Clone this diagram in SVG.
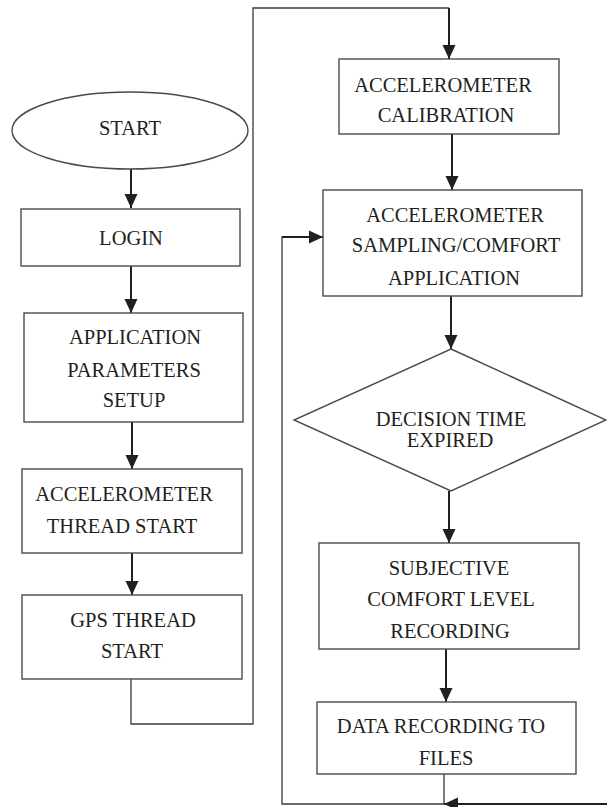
<svg xmlns="http://www.w3.org/2000/svg" width="607" height="807" viewBox="0 0 607 807">
<defs>
<marker id="ah" markerUnits="userSpaceOnUse" markerWidth="14" markerHeight="14" viewBox="0 0 14 14" refX="14" refY="7" orient="auto">
<path d="M0,0.5 L14,7 L0,13.5 Z" fill="#231f20"/>
</marker>
<style>
.box{fill:#fff;stroke:#4a4a4a;stroke-width:1.4}
.t{font-family:"Liberation Serif","Times New Roman",serif;font-size:20.5px;fill:#231f20;text-anchor:middle}
.a{fill:none;stroke:#231f20;stroke-width:2}
.l{fill:none;stroke:#3a3a3a;stroke-width:1.3}
</style>
</defs>
<rect width="607" height="807" fill="#fff"/>
<g id="connectors">
<path class="a" d="M131,169 V208" marker-end="url(#ah)"/>
<path class="a" d="M131,266 V313" marker-end="url(#ah)"/>
<path class="a" d="M132,422 V469" marker-end="url(#ah)"/>
<path class="a" d="M132,553 V595" marker-end="url(#ah)"/>
<path class="l" d="M131,679 V724 H253 V8 H449"/>
<path class="a" d="M449,8 V59" marker-end="url(#ah)"/>
<path class="a" d="M452,134 V190" marker-end="url(#ah)"/>
<path class="a" d="M451,296 V349" marker-end="url(#ah)"/>
<path class="a" d="M449,491 V543" marker-end="url(#ah)"/>
<path class="a" d="M446,649 V702" marker-end="url(#ah)"/>
<path class="l" d="M444,774 V804"/>
<path class="a" d="M607,804 H444" marker-end="url(#ah)"/>
<path class="l" d="M444,804 H282 V237 H300"/>
<path class="a" d="M282,237 H323" marker-end="url(#ah)"/>
</g>
<g id="start">
<ellipse class="box" cx="130" cy="130.5" rx="118" ry="38.5"/>
<text class="t" x="130" y="135">START</text>
</g>
<g id="login">
<rect class="box" x="21" y="209" width="219" height="57"/>
<text class="t" x="131" y="245">LOGIN</text>
</g>
<g id="app-params">
<rect class="box" x="24" y="313" width="219" height="109"/>
<text class="t" x="135" y="344">APPLICATION</text>
<text class="t" x="134" y="377">PARAMETERS</text>
<text class="t" x="134" y="407">SETUP</text>
</g>
<g id="acc-thread">
<rect class="box" x="22" y="469" width="220" height="84"/>
<text class="t" x="124" y="501">ACCELEROMETER</text>
<text class="t" x="122" y="533">THREAD  START</text>
</g>
<g id="gps-thread">
<rect class="box" x="22" y="595" width="220" height="84"/>
<text class="t" x="133" y="627">GPS THREAD</text>
<text class="t" x="132" y="658">START</text>
</g>
<g id="acc-calibration">
<rect class="box" x="339" y="59" width="220" height="75"/>
<text class="t" x="443" y="92">ACCELEROMETER</text>
<text class="t" x="446" y="122">CALIBRATION</text>
</g>
<g id="acc-sampling">
<rect class="box" x="323" y="190" width="259" height="106"/>
<text class="t" x="455" y="222">ACCELEROMETER</text>
<text class="t" x="456" y="252">SAMPLING/COMFORT</text>
<text class="t" x="454" y="285">APPLICATION</text>
</g>
<g id="decision">
<polygon class="box" points="451,349 606,420 451,491 294,420"/>
<text class="t" x="451" y="426">DECISION TIME</text>
<text class="t" x="450" y="447">EXPIRED</text>
</g>
<g id="subjective">
<rect class="box" x="319" y="543" width="260" height="106"/>
<text class="t" x="449" y="575">SUBJECTIVE</text>
<text class="t" x="451" y="606">COMFORT LEVEL</text>
<text class="t" x="450" y="638">RECORDING</text>
</g>
<g id="data-recording">
<rect class="box" x="317" y="702" width="259" height="72"/>
<text class="t" x="441" y="733">DATA RECORDING TO</text>
<text class="t" x="446" y="765">FILES</text>
</g>
</svg>
